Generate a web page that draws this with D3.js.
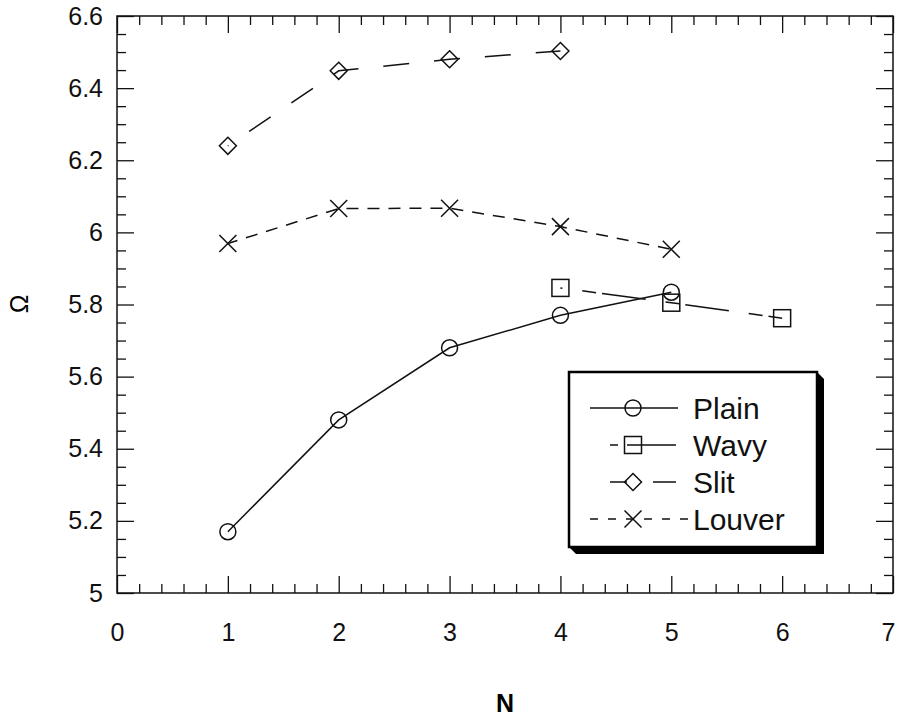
<!DOCTYPE html>
<html>
<head>
<meta charset="utf-8">
<script src="https://cdn.jsdelivr.net/npm/d3@7"></script>
<style>
  body { margin: 0; background: #fff; }
  svg { font-family: Arial, "Liberation Sans", sans-serif; }
  .tick line { stroke: #111; stroke-width: 1.3; }
  .tick text { fill: #111; }
</style>
</head>
<body>
<svg width="898" height="719"></svg>
<script>
// Data
const xTicks = [0, 1, 2, 3, 4, 5, 6, 7];
const yTicks = [5, 5.2, 5.4, 5.6, 5.8, 6, 6.2, 6.4, 6.6];
const yTickLabels = ["5", "5.2", "5.4", "5.6", "5.8", "6", "6.2", "6.4", "6.6"];

const plainN = [1, 2, 3, 4, 5];
const plainVal = [5.17, 5.48, 5.68, 5.77, 5.834];

const wavyN = [4, 5, 6];
const wavyVal = [5.846, 5.805, 5.762];

const slitN = [1, 2, 3, 4];
const slitVal = [6.24, 6.448, 6.48, 6.503];

const louverN = [1, 2, 3, 4, 5];
const louverVal = [5.969, 6.066, 6.067, 6.016, 5.953];

const seriesNames = ["Plain", "Wavy", "Slit", "Louver"];

const svg = d3.select("svg");
const plot = { left: 117, right: 893, top: 16, bottom: 593 };

const x = d3.scaleLinear().domain([0, 7]).range([plot.left, plot.right]);
const y = d3.scaleLinear().domain([5, 6.6]).range([plot.bottom, plot.top]);

const xMinor = d3.range(0, 7.001, 0.2).filter(v => Math.abs(v - Math.round(v)) > 1e-6);
const yMinor = d3.range(5, 6.6001, 0.05).filter(v => Math.abs(v * 5 - Math.round(v * 5)) > 1e-6);

function addAxis(axis, tx, ty) {
  const g = svg.append("g")
      .attr("transform", `translate(${tx},${ty})`)
      .call(axis);
  g.select(".domain").remove();
  return g;
}

// bottom
addAxis(d3.axisBottom(x).tickValues(xTicks).tickSize(-17).tickPadding(30).tickFormat(d3.format("d")), 0, plot.bottom)
  .selectAll("text")
    .style("font-size", "25px")
    .attr("dx", d => d === 7 ? -5 : 0);
addAxis(d3.axisBottom(x).tickValues(xMinor).tickSize(-9).tickFormat(""), 0, plot.bottom);
// top
addAxis(d3.axisTop(x).tickValues(xTicks).tickSize(-17).tickFormat(""), 0, plot.top);
addAxis(d3.axisTop(x).tickValues(xMinor).tickSize(-9).tickFormat(""), 0, plot.top);
// left
addAxis(d3.axisLeft(y).tickValues(yTicks).tickSize(-17).tickPadding(14)
    .tickFormat((d, i) => yTickLabels[i]), plot.left, 0)
  .selectAll("text").style("font-size", "25px");
addAxis(d3.axisLeft(y).tickValues(yMinor).tickSize(-9).tickFormat(""), plot.left, 0);
// right
addAxis(d3.axisRight(y).tickValues(yTicks).tickSize(-17).tickFormat(""), plot.right, 0);
addAxis(d3.axisRight(y).tickValues(yMinor).tickSize(-9).tickFormat(""), plot.right, 0);

// frame
svg.append("rect")
    .attr("x", plot.left).attr("y", plot.top)
    .attr("width", plot.right - plot.left).attr("height", plot.bottom - plot.top)
    .attr("fill", "none").attr("stroke", "#111").attr("stroke-width", 1.5);

// axis titles
svg.append("text")
    .attr("x", (plot.left + plot.right) / 2).attr("y", 712)
    .attr("text-anchor", "middle")
    .style("font-size", "25px").style("font-weight", "bold")
    .text("N");

svg.append("text")
    .attr("transform", "translate(28,304) rotate(-90)")
    .attr("text-anchor", "middle")
    .style("font-size", "25px")
    .text("Ω");

// series
const styles = {
  Plain:  { dash: null,          offset: 0,    marker: "circle" },
  Wavy:   { dash: "44,20,14,6",  offset: 42,   marker: "square" },
  Slit:   { dash: "26,25",       offset: 25.3, marker: "diamond" },
  Louver: { dash: "12,9",        offset: 2,    marker: "cross" }
};

const seriesData = {
  Plain:  plainN.map((n, i) => ({ n, v: plainVal[i] })),
  Wavy:   wavyN.map((n, i) => ({ n, v: wavyVal[i] })),
  Slit:   slitN.map((n, i) => ({ n, v: slitVal[i] })),
  Louver: louverN.map((n, i) => ({ n, v: louverVal[i] }))
};

const line = d3.line().x(d => x(d.n)).y(d => y(d.v));

function drawMarker(g, type, cx, cy) {
  const s = 8.5;
  if (type === "circle") {
    g.append("circle").attr("cx", cx).attr("cy", cy).attr("r", 8);
  } else if (type === "square") {
    g.append("rect").attr("x", cx - s).attr("y", cy - s).attr("width", 2 * s).attr("height", 2 * s);
  } else if (type === "diamond") {
    g.append("path").attr("d", `M${cx},${cy - s}L${cx + s},${cy}L${cx},${cy + s}L${cx - s},${cy}Z`);
  } else {
    g.append("path").attr("d", `M${cx - s},${cy - s}L${cx + s},${cy + s}M${cx - s},${cy + s}L${cx + s},${cy - s}`);
  }
}

seriesNames.forEach(name => {
  const st = styles[name];
  const g = svg.append("g")
      .attr("fill", "none").attr("stroke", "#111").attr("stroke-width", 1.5);
  g.append("path")
      .datum(seriesData[name])
      .attr("d", line)
      .attr("stroke-dasharray", st.dash)
      .attr("stroke-dashoffset", st.offset);
  seriesData[name].forEach(d => drawMarker(g, st.marker, x(d.n), y(d.v)));
});

// legend
const lg = { x0: 569, y0: 372, x1: 817, y1: 547, sh: 7 };
svg.append("path")
    .attr("d", `M${lg.x1},${lg.y0}L${lg.x1 + lg.sh},${lg.y0 + lg.sh}L${lg.x1 + lg.sh},${lg.y1 + lg.sh}` +
               `L${lg.x0 + lg.sh},${lg.y1 + lg.sh}L${lg.x0},${lg.y1}Z`)
    .attr("fill", "#000");
svg.append("rect")
    .attr("x", lg.x0).attr("y", lg.y0)
    .attr("width", lg.x1 - lg.x0).attr("height", lg.y1 - lg.y0)
    .attr("fill", "#fff").attr("stroke", "#000").attr("stroke-width", 2.5);

const legendLines = {
  Plain:  [590, 678],
  Wavy:   [610, 676],
  Slit:   [610, 676],
  Louver: [590, 690]
};
const legendDash = { Plain: null, Wavy: "8,9,60,0", Slit: "17,26,24,0", Louver: "8,10" };

seriesNames.forEach((name, i) => {
  const cy = 408 + i * 37;
  const g = svg.append("g")
      .attr("fill", "none").attr("stroke", "#111").attr("stroke-width", 1.5);
  g.append("line")
      .attr("x1", legendLines[name][0]).attr("x2", legendLines[name][1])
      .attr("y1", cy).attr("y2", cy)
      .attr("stroke-dasharray", legendDash[name]);
  drawMarker(g, styles[name].marker, 633, cy);
  svg.append("text")
      .attr("x", 693).attr("y", cy)
      .attr("dy", "0.36em")
      .style("font-size", "30px")
      .attr("fill", "#111")
      .text(name);
});
</script>
</body>
</html>
